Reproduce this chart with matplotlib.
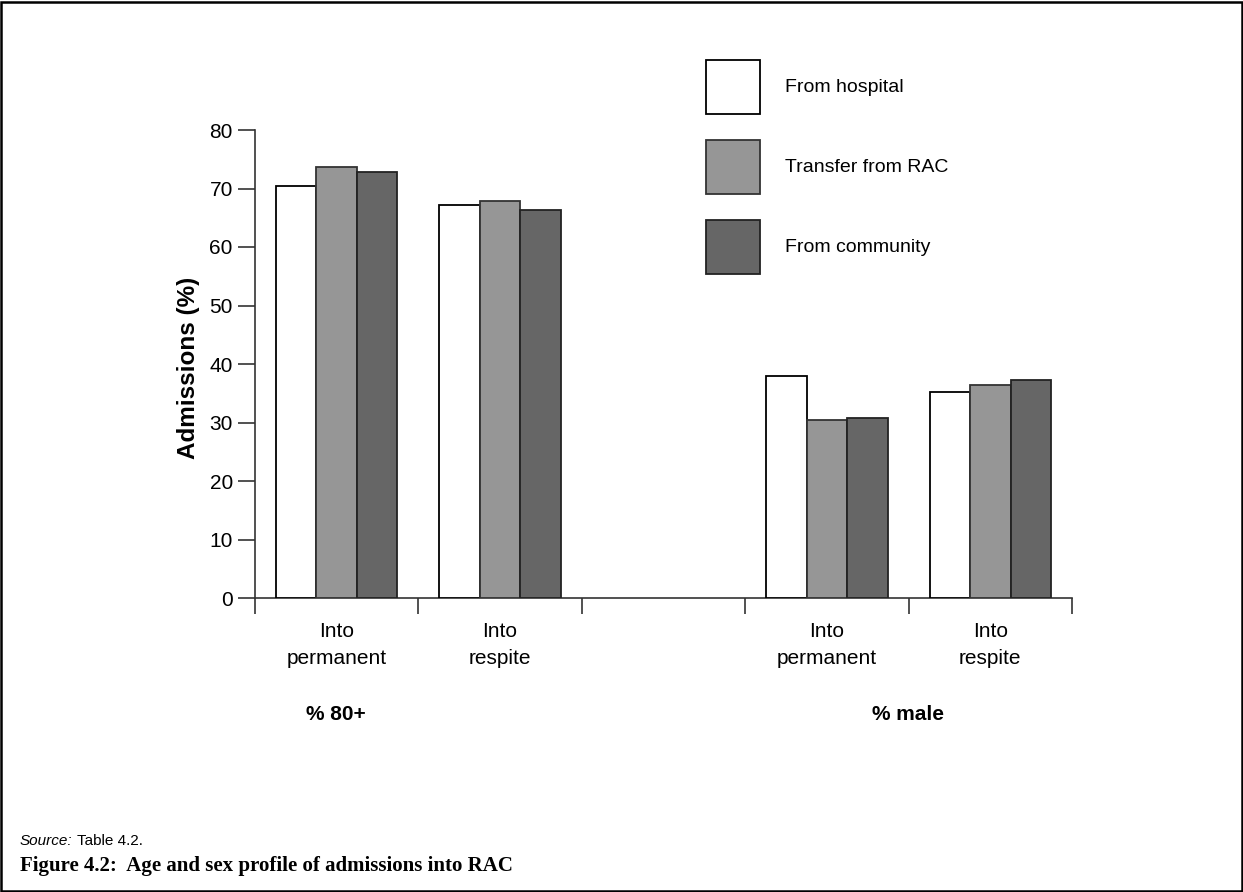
import matplotlib
matplotlib.use("Agg")
import matplotlib.pyplot as plt
from matplotlib.patches import Rectangle
import numpy as np

plt.rcParams['font.family'] = ['Liberation Sans', 'DejaVu Sans']

# ---- data ----
categories = ["Into\npermanent", "Into\nrespite", "", "Into\npermanent", "Into\nrespite"]
groups = ["% 80+", "% male"]
series_names = ["From hospital", "Transfer from RAC", "From community"]
from_hospital = [70.4, 67.1, None, 38.0, 35.2]
transfer_rac = [73.7, 67.8, None, 30.5, 36.4]
from_community = [72.8, 66.3, None, 30.8, 37.3]
yticks = [0, 10, 20, 30, 40, 50, 60, 70, 80]

colors = ["#ffffff", "#969696", "#666666"]
edges = ["#000000", "#333333", "#222222"]

W, H = 1243, 892
fig = plt.figure(figsize=(W / 100, H / 100), dpi=100)
ax = fig.add_axes([255 / W, 1 - 598 / H, (1072 - 255) / W, (598 - 130) / H])

bw = 0.248
x = np.arange(len(categories)) + 0.5
for i, (vals, c, e) in enumerate(zip([from_hospital, transfer_rac, from_community], colors, edges)):
    xs = [xx + (i - 1) * bw for xx, v in zip(x, vals) if v is not None]
    vs = [v for v in vals if v is not None]
    ax.bar(xs, vs, width=bw, color=c, edgecolor=e, linewidth=1.3, zorder=3)

ax.set_xlim(0, len(categories))
ax.set_ylim(0, 80)
ax.set_yticks(yticks)
ax.set_yticklabels([str(t) for t in yticks], fontsize=15)
ax.tick_params(axis='y', length=12, width=1.2, color='#333333', pad=4, direction='out')
ax.set_xticks(x)
ax.set_xticklabels(categories, fontsize=15, linespacing=1.55)
ax.tick_params(axis='x', which='major', length=0, pad=17)
ax.set_xticks(np.arange(len(categories) + 1), minor=True)
ax.tick_params(axis='x', which='minor', length=11.5, width=1.2, color='#333333', direction='out')
for s in ['top', 'right']:
    ax.spines[s].set_visible(False)
for s in ['left', 'bottom']:
    ax.spines[s].set_linewidth(1.2)
    ax.spines[s].set_color('#333333')

# group labels
for gx, g in zip([336 / W, 908 / W], groups):
    fig.text(gx, 1 - 715 / H, g, ha='center', va='center', fontsize=15, fontweight='bold')

fig.text(188 / W, 1 - 368 / H, "Admissions (%)", rotation=90, ha='center', va='center',
         fontsize=17.5, fontweight='bold')

# legend
for i, (name, c, e) in enumerate(zip(series_names, colors, edges)):
    top = 60 + i * 80
    fig.add_artist(Rectangle((706 / W, 1 - (top + 54) / H), 54 / W, 54 / H,
                             transform=fig.transFigure, facecolor=c, edgecolor=e, linewidth=1.3))
    fig.text(785 / W, 1 - (top + 27) / H, name, ha='left', va='center', fontsize=14)

# source and title
fig.text(20 / W, 1 - 841 / H, "Source:", fontsize=11, style='italic', ha='left', va='center')
fig.text(77 / W, 1 - 841 / H, "Table 4.2.", fontsize=11, ha='left', va='center')
fig.text(20 / W, 1 - 866 / H, "Figure 4.2:  Age and sex profile of admissions into RAC",
         fontsize=15, fontweight='bold', family=['Liberation Serif', 'DejaVu Serif'],
         ha='left', va='center')

# border
fig.add_artist(Rectangle((1 / W, 1 / H), (W - 2) / W, (H - 2.5) / H, transform=fig.transFigure,
                         facecolor='none', edgecolor='black', linewidth=1.8))

fig.savefig("out.png", dpi=100)
